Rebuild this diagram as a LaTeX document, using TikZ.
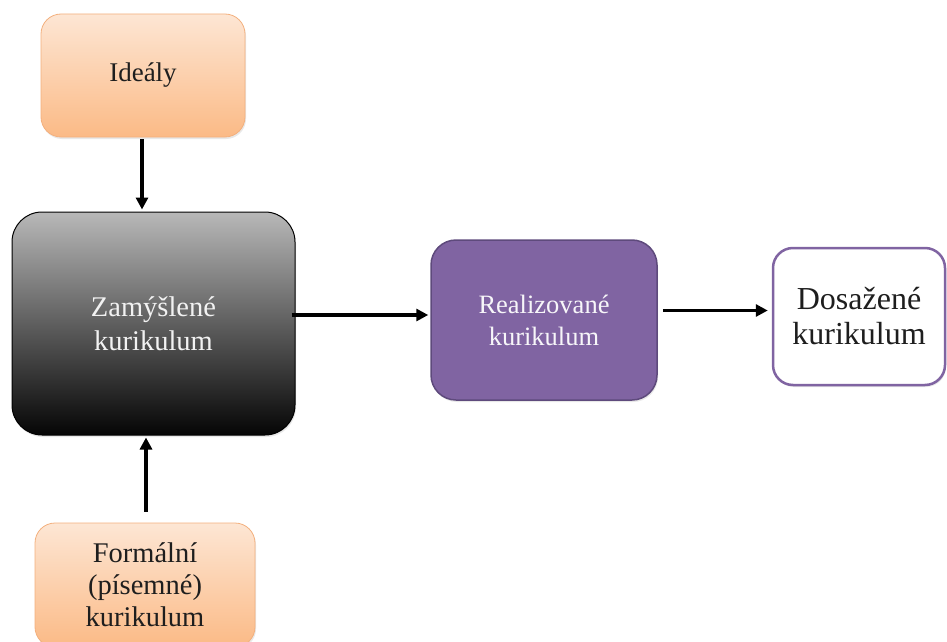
\documentclass[tikz,border=0pt]{standalone}
\usepackage{fontspec}
\setmainfont{Liberation Serif}
\usetikzlibrary{arrows.meta,shadows,calc}
\definecolor{peachtop}{HTML}{FDE6D4}
\definecolor{peachbot}{HTML}{FBBA86}
\definecolor{peachline}{HTML}{F3B07E}
\definecolor{purplefill}{HTML}{8064A2}
\definecolor{purpleline}{HTML}{5E4A7C}
\definecolor{graytop}{HTML}{B8B8B8}
\definecolor{graybot}{HTML}{050505}
\definecolor{txtdark}{HTML}{1E1E1E}
\tikzset{
  box/.style={draw, align=center, inner sep=0pt,
    drop shadow={opacity=0.18, shadow xshift=1pt, shadow yshift=-2pt}},
  peachbox/.style={box, draw=peachline, line width=0.8pt,
    top color=peachtop, bottom color=peachbot, text=txtdark, rounded corners=20pt},
  graybox/.style={box, draw=black, line width=1pt,
    top color=graytop, bottom color=graybot, text=white!90!gray, rounded corners=30pt},
  purplebox/.style={box, draw=purpleline, line width=1.5pt,
    fill=purplefill, text=white!94!purplefill, rounded corners=25pt},
  whitebox/.style={box, draw=purplefill, line width=2.5pt,
    fill=white, text=txtdark, rounded corners=20pt},
  arr/.style={draw=black, line width=3.2pt, -{Triangle[length=12pt,width=12pt]}}
}
\begin{document}
\begin{tikzpicture}[x=1pt,y=-1pt]
\useasboundingbox (0,0) rectangle (947,642);
\node[peachbox, minimum width=204pt, minimum height=123pt,
  font=\fontsize{27}{34}\selectfont] (ideal) at (143,75.5) {Ideály};
\node[graybox, minimum width=283pt, minimum height=223pt,
  font=\fontsize{28.5}{34}\selectfont] (zam) at (153.5,323.5) {Zamýšlené\\kurikulum};
\node[purplebox, minimum width=226pt, minimum height=160pt,
  font=\fontsize{26.5}{32}\selectfont] (real) at (544,320) {Realizované\\kurikulum};
\node[whitebox, minimum width=172pt, minimum height=137pt,
  font=\fontsize{32}{35}\selectfont] (dos) at (859,316.5) {Dosažené\\kurikulum};
\node[peachbox, minimum width=220pt, minimum height=124pt,
  font=\fontsize{28.5}{32}\selectfont] (form) at (145,585) {Formální\\(písemné)\\kurikulum};
% connectors
\draw[arr, shorten <=2pt, shorten >=2pt] ([xshift=-1pt]ideal.south) -- ([xshift=-1pt]ideal.south |- zam.north);
\draw[arr, shorten <=11pt, shorten >=2pt] ([xshift=1pt]form.north) -- ([xshift=1pt]form.north |- zam.south);
\coordinate (z1) at ([yshift=5pt]real.west);
\draw[arr, shorten >=2pt] ([xshift=-4pt]zam.east |- z1) -- (z1);
\coordinate (d1) at ([yshift=6pt]dos.west);
\draw[arr, shorten <=5pt, shorten >=4pt] (real.east |- d1) -- (d1);
\end{tikzpicture}
\end{document}
